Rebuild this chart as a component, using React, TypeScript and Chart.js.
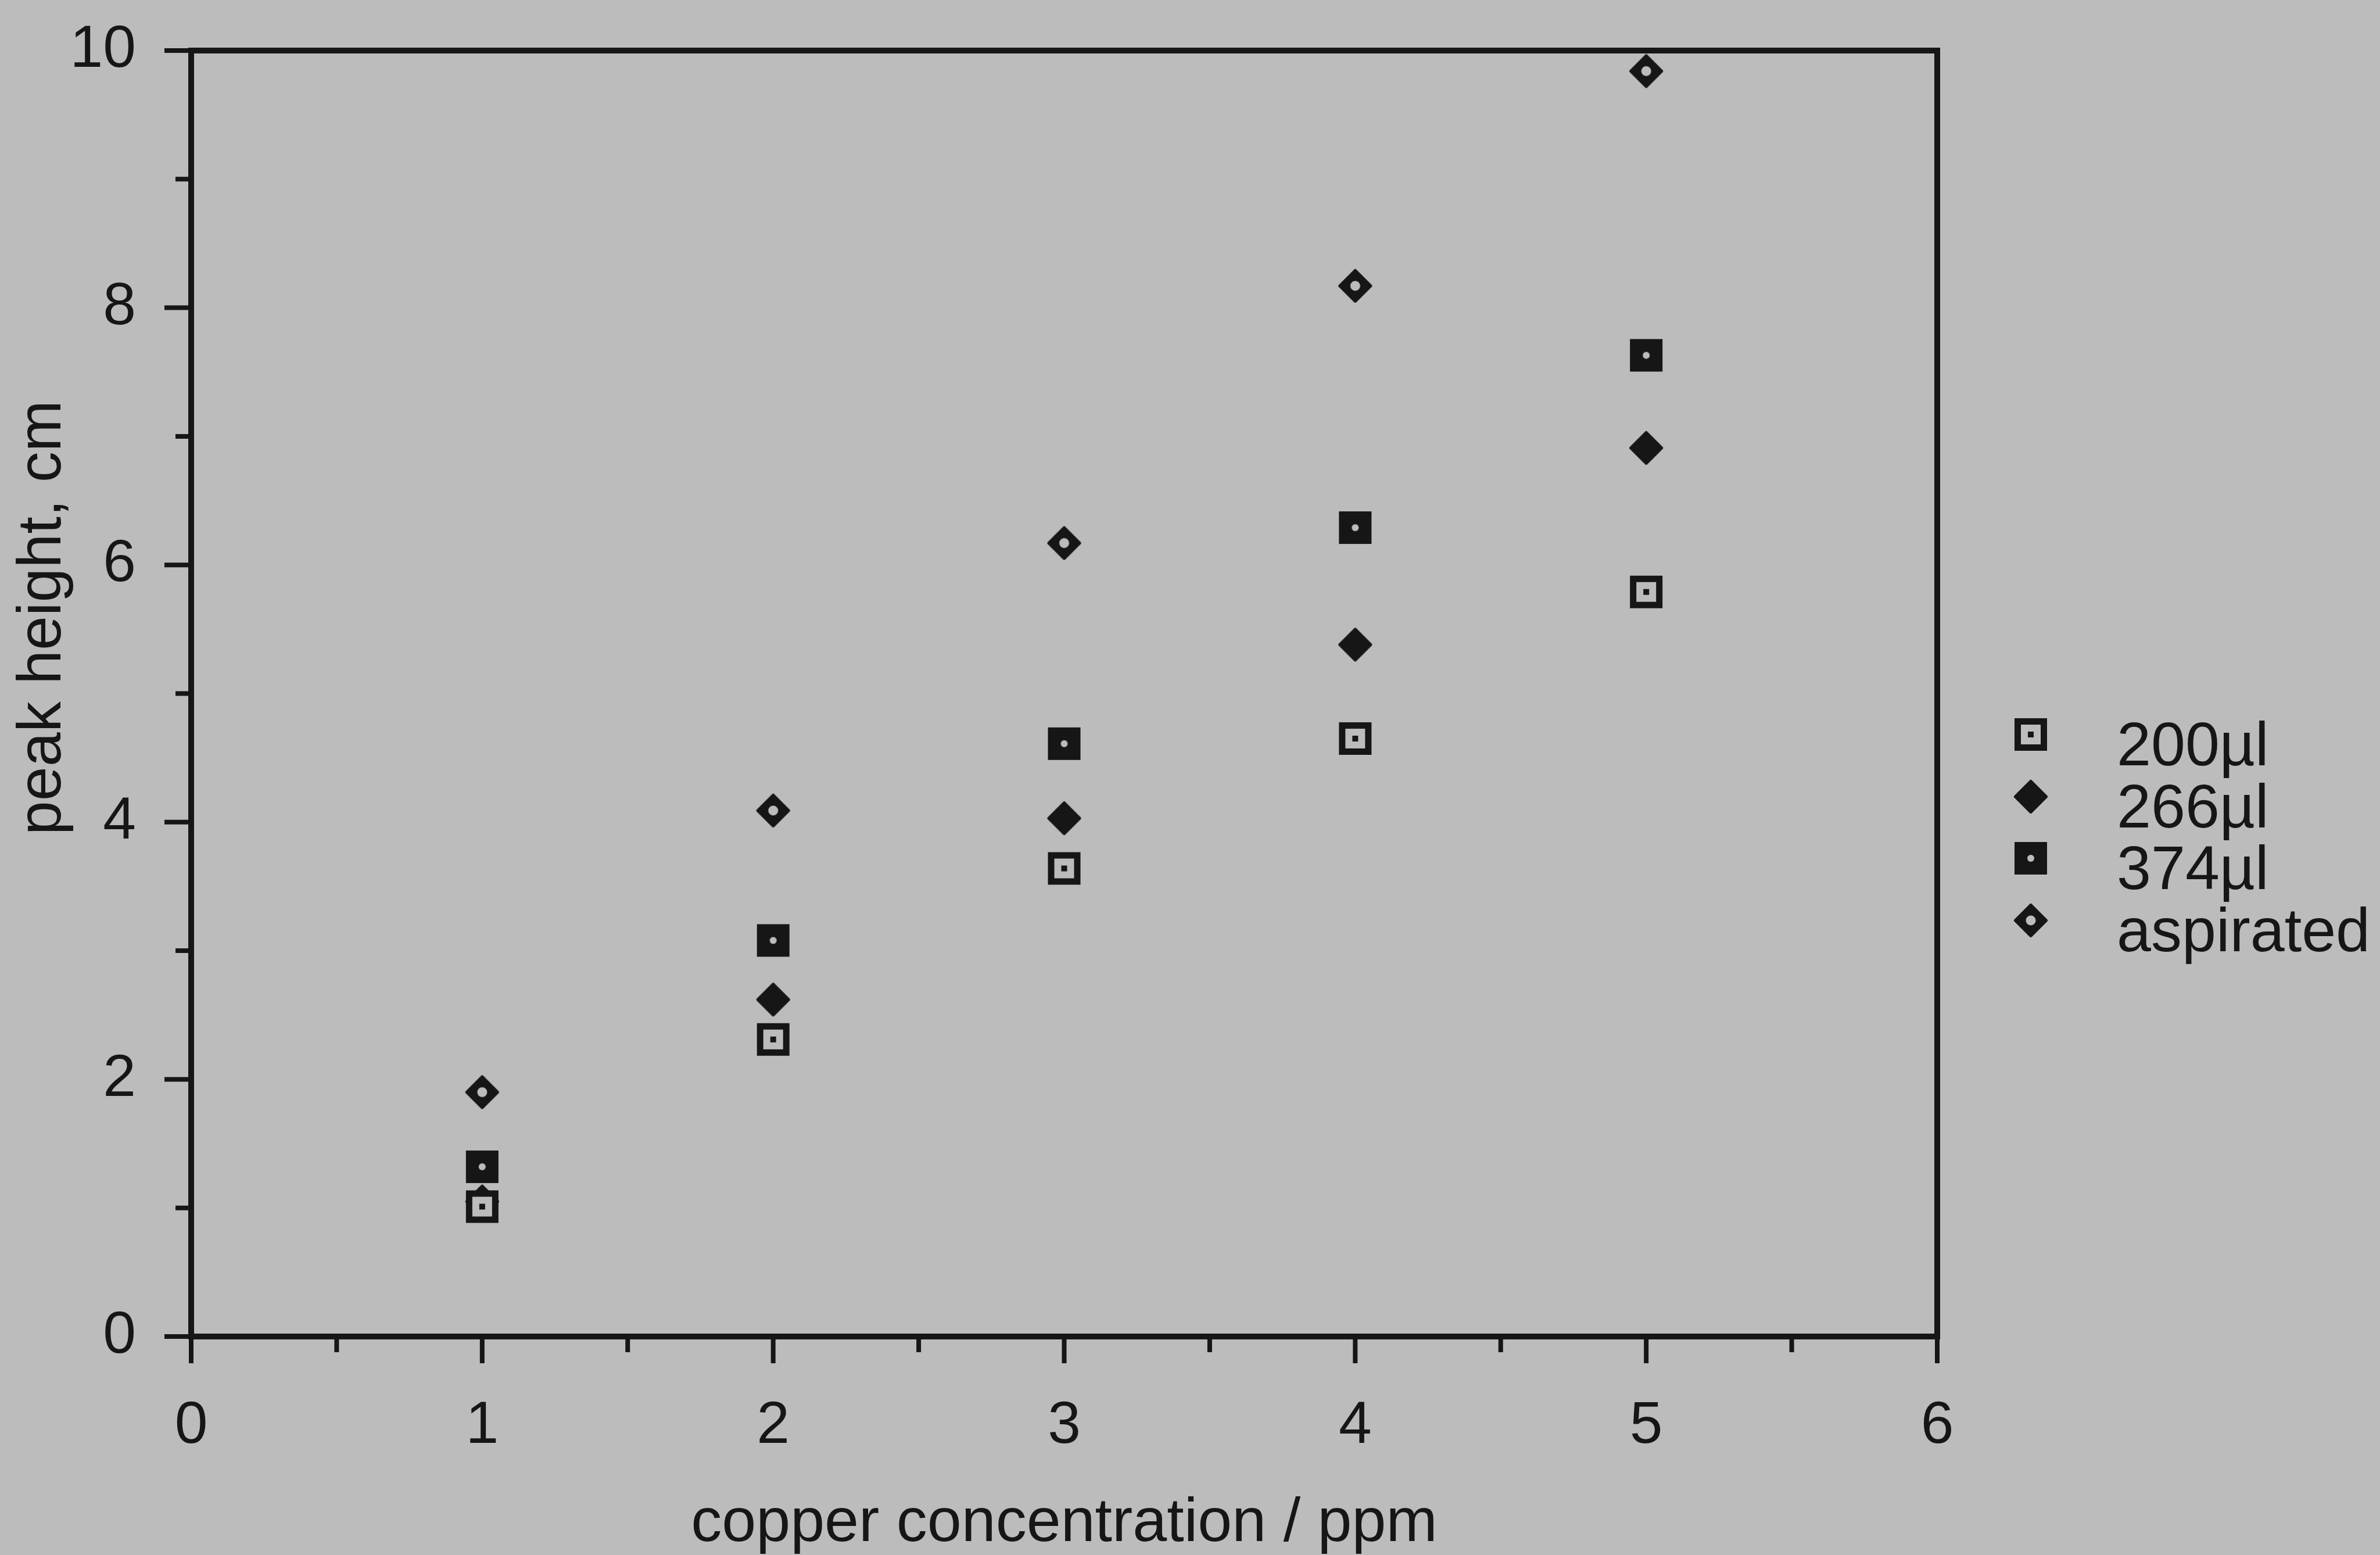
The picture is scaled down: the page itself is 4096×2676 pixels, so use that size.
import React, { useEffect, useRef } from 'react';
import { Chart, registerables } from 'chart.js';

Chart.register(...registerables);

// ---- data ----
const concentrations = [1, 2, 3, 4, 5];
const seriesLabels = ['200µl', '266µl', '374µl', 'aspirated'];
const peak200 = [1.01, 2.31, 3.64, 4.65, 5.79];
const peak266 = [1.05, 2.62, 4.03, 5.38, 6.91];
const peak374 = [1.32, 3.08, 4.61, 6.29, 7.63];
const peakAspirated = [1.9, 4.09, 6.17, 8.17, 9.84];
const xAxisTitle = 'copper concentration / ppm';
const yAxisTitle = 'peak height, cm';
const xMajorTicks = [0, 1, 2, 3, 4, 5, 6];
const xMinorTicks = [0.5, 1.5, 2.5, 3.5, 4.5, 5.5];
const yMajorTicks = [0, 2, 4, 6, 8, 10];
const yMinorTicks = [1, 3, 5, 7, 9];

// ---- style ----
const INK = '#161616';
const BG = '#bcbcbc';
const FAMILY = '"Liberation Sans", Arial, Helvetica, sans-serif';
const W = 4096;
const H = 2676;
const PLOT_TOP = 87;

type MarkerKind = 'openSquare' | 'filledDiamond' | 'filledSquare' | 'openDiamond';
const markerKinds: MarkerKind[] = ['openSquare', 'filledDiamond', 'filledSquare', 'openDiamond'];

function makeMarker(kind: MarkerKind): HTMLCanvasElement {
  const c = document.createElement('canvas');
  c.width = 64;
  c.height = 64;
  const g = c.getContext('2d') as CanvasRenderingContext2D;
  const m = 32;
  g.fillStyle = INK;
  g.strokeStyle = INK;
  if (kind === 'openSquare') {
    g.fillRect(m - 28, m - 28, 56, 56);
    g.fillStyle = BG;
    g.fillRect(m - 17, m - 17, 34, 34);
    g.fillStyle = INK;
    g.fillRect(m - 5, m - 5, 10, 10);
  } else if (kind === 'filledSquare') {
    g.fillRect(m - 28, m - 28, 56, 56);
    g.fillStyle = BG;
    g.beginPath();
    g.arc(m, m, 6, 0, Math.PI * 2);
    g.fill();
  } else {
    g.lineJoin = 'round';
    g.lineWidth = 6;
    g.beginPath();
    g.moveTo(m, m - 26);
    g.lineTo(m + 26, m);
    g.lineTo(m, m + 26);
    g.lineTo(m - 26, m);
    g.closePath();
    g.fill();
    g.stroke();
    if (kind === 'openDiamond') {
      g.fillStyle = BG;
      g.beginPath();
      g.arc(m, m, 8.5, 0, Math.PI * 2);
      g.fill();
    }
  }
  return c;
}

const bgPlugin = {
  id: 'paperBg',
  beforeDraw(chart: any) {
    const ctx = chart.ctx;
    ctx.save();
    ctx.fillStyle = BG;
    ctx.fillRect(0, 0, chart.width, chart.height);
    ctx.restore();
  },
};

const framePlugin = {
  id: 'frameTicks',
  beforeDatasetsDraw(chart: any) {
    const ctx = chart.ctx;
    const xs = chart.scales.x;
    const ys = chart.scales.y;
    const left = xs.getPixelForValue(0);
    const right = xs.getPixelForValue(6);
    const bottom = ys.getPixelForValue(0);
    const top = ys.getPixelForValue(10);
    ctx.save();
    ctx.strokeStyle = INK;
    ctx.lineCap = 'square';
    ctx.lineWidth = 10;
    ctx.beginPath();
    ctx.rect(left, top, right - left, bottom - top);
    ctx.stroke();
    ctx.lineCap = 'butt';
    ctx.lineWidth = 8;
    ctx.beginPath();
    for (const v of yMajorTicks) {
      const y = ys.getPixelForValue(v);
      ctx.moveTo(left - 46, y);
      ctx.lineTo(left, y);
    }
    for (const v of yMinorTicks) {
      const y = ys.getPixelForValue(v);
      ctx.moveTo(left - 27, y);
      ctx.lineTo(left, y);
    }
    for (const v of xMajorTicks) {
      const x = xs.getPixelForValue(v);
      ctx.moveTo(x, bottom);
      ctx.lineTo(x, bottom + 46);
    }
    for (const v of xMinorTicks) {
      const x = xs.getPixelForValue(v);
      ctx.moveTo(x, bottom);
      ctx.lineTo(x, bottom + 27);
    }
    ctx.stroke();
    ctx.restore();
  },
};

const legendPlugin = {
  id: 'sideLegend',
  afterDraw(chart: any) {
    const ctx = chart.ctx;
    const ca = chart.chartArea;
    const markerX = ca.right + 161;
    const textX = ca.right + 309;
    ctx.save();
    ctx.fillStyle = INK;
    ctx.font = `106px ${FAMILY}`;
    ctx.textAlign = 'left';
    ctx.textBaseline = 'alphabetic';
    chart.data.datasets.forEach((ds: any, i: number) => {
      const my = 1264 + i * 106.5;
      const img = ds.pointStyle as HTMLCanvasElement;
      ctx.drawImage(img, Math.round(markerX - img.width / 2), Math.round(my - img.height / 2));
      ctx.fillText(ds.label, textX, my + 53);
    });
    ctx.restore();
  },
};

const yTitlePlugin = {
  id: 'yTitle',
  afterDraw(chart: any) {
    const ctx = chart.ctx;
    const text = chart.options.scales.y.title.text;
    ctx.save();
    ctx.fillStyle = INK;
    ctx.font = `106px ${FAMILY}`;
    ctx.translate(75, 1063);
    ctx.rotate(-Math.PI / 2);
    ctx.textAlign = 'center';
    ctx.textBaseline = 'middle';
    ctx.fillText(text, 0, 0);
    ctx.restore();
  },
};

export default function App() {
  const ref = useRef<HTMLCanvasElement | null>(null);

  useEffect(() => {
    const canvas = ref.current;
    if (!canvas) return;
    const markers = markerKinds.map(makeMarker);
    const values = [peak200, peak266, peak374, peakAspirated];
    Chart.defaults.font.family = FAMILY;
    const chart = new Chart(canvas, {
      type: 'scatter',
      data: {
        datasets: seriesLabels.map((label, i) => ({
          label,
          data: concentrations.map((x, j) => ({ x, y: values[i][j] })),
          pointStyle: markers[i],
          pointRadius: 28,
          pointHoverRadius: 28,
          backgroundColor: INK,
          borderColor: INK,
          showLine: false,
          clip: false,
        })),
      },
      options: {
        animation: false,
        responsive: false,
        devicePixelRatio: 1,
        events: [],
        layout: { padding: { top: PLOT_TOP, right: 762, bottom: 0, left: 0 } },
        plugins: {
          legend: { display: false },
          tooltip: { enabled: false },
        },
        scales: {
          x: {
            type: 'linear',
            min: 0,
            max: 6,
            grid: { display: false, drawTicks: false },
            border: { display: false },
            ticks: {
              stepSize: 1,
              padding: 104,
              autoSkip: false,
              maxRotation: 0,
              color: INK,
              font: { family: FAMILY, size: 102, lineHeight: 1 },
            },
            title: {
              display: true,
              text: xAxisTitle,
              color: INK,
              font: { family: FAMILY, size: 106, lineHeight: 1 },
              padding: { top: 0, bottom: 0 },
            },
            afterFit: (s: any) => {
              s.height = 376;
            },
          },
          y: {
            type: 'linear',
            min: 0,
            max: 10,
            grid: { display: false, drawTicks: false },
            border: { display: false },
            ticks: {
              stepSize: 2,
              padding: 95,
              autoSkip: false,
              color: INK,
              font: { family: FAMILY, size: 102, lineHeight: 1 },
            },
            title: {
              display: false,
              text: yAxisTitle,
              color: INK,
              font: { family: FAMILY, size: 106, lineHeight: 1 },
            },
            afterFit: (s: any) => {
              s.width = 329;
              s.paddingTop = 0;
              s.paddingBottom = 0;
            },
          },
        },
      },
      plugins: [bgPlugin, framePlugin, legendPlugin, yTitlePlugin],
    } as any);
    return () => {
      chart.destroy();
    };
  }, []);

  return (
    <div
      style={{
        position: 'fixed',
        left: 0,
        top: 0,
        width: W,
        height: H,
        background: BG,
        overflow: 'hidden',
      }}
    >
      <canvas ref={ref} width={W} height={H} style={{ display: 'block', width: W, height: H }} />
    </div>
  );
}
